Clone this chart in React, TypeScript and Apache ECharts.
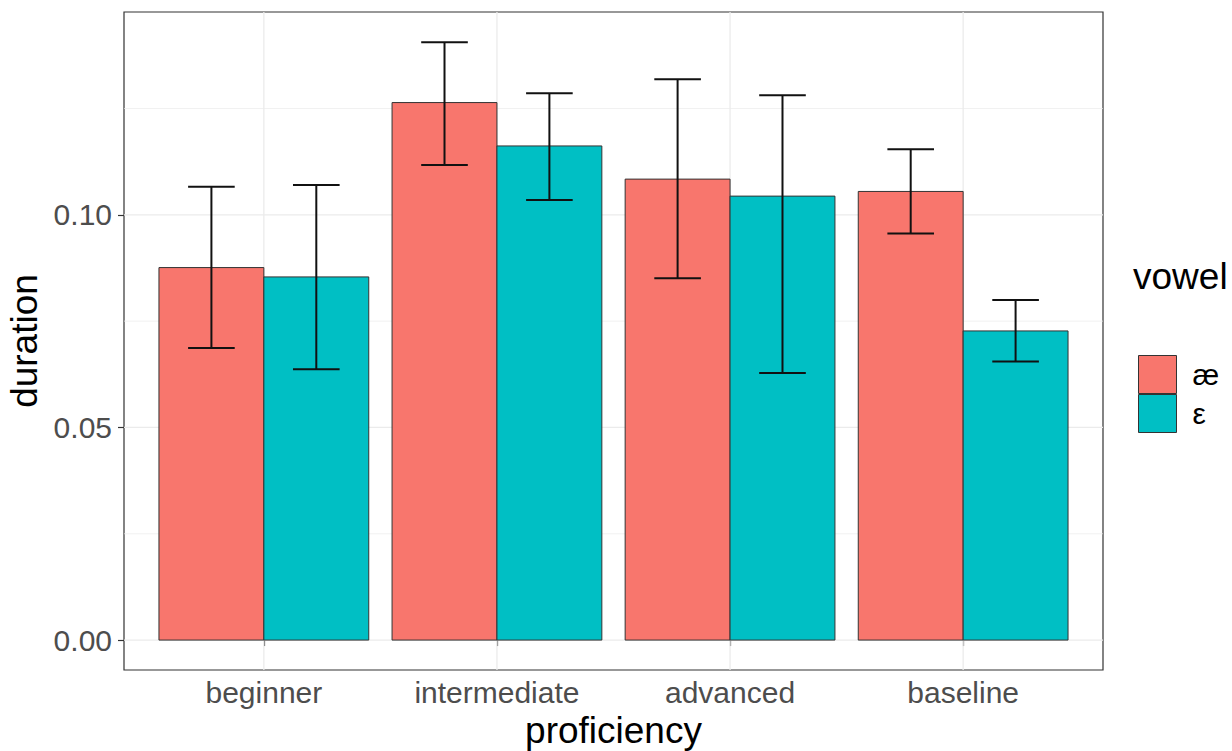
import React, { useEffect, useRef } from "react";
import * as echarts from "echarts";

const categories = ["beginner", "intermediate", "advanced", "baseline"];
const vowels = ["æ", "ε"];
const vowelColors = ["#F8766D", "#00BFC4"];
const aeMean = [0.0876, 0.1264, 0.1084, 0.1055];
const aeLow = [0.0687, 0.1117, 0.0851, 0.0956];
const aeHigh = [0.1066, 0.1406, 0.1319, 0.1154];
const epsMean = [0.0854, 0.1162, 0.1044, 0.0727];
const epsLow = [0.0637, 0.1035, 0.0628, 0.0655];
const epsHigh = [0.107, 0.1286, 0.1281, 0.08];
const yTicks = [0, 0.05, 0.1];
const yMinorTicks = [0.025, 0.075, 0.125];

const FONT = "'Liberation Sans', Arial, Helvetica, sans-serif";

export default function App() {
  const ref = useRef<HTMLDivElement>(null);
  useEffect(() => {
    if (!ref.current) return;
    const chart = echarts.init(ref.current, null, { renderer: "svg" });
    const xs = categories.map((_, i) => i + 1);
    const xMin = 0.4;
    const xMax = categories.length + 0.6;
    const yMin = -0.00704;
    const yMax = 0.1477;
    const barW = 0.45;
    const whisker = 0.1;

    const barSeries = (idx: number, means: number[]) => ({
      type: "custom",
      name: vowels[idx],
      z: 3,
      itemStyle: { color: vowelColors[idx] },
      data: xs.map((x, i) => [x, means[i]]),
      encode: { x: 0, y: 1 },
      renderItem: (params: any, api: any) => {
        const x = api.value(0);
        const y = api.value(1);
        const left = idx === 0 ? x - barW : x;
        const p0 = api.coord([left, 0]);
        const p1 = api.coord([left + barW, y]);
        return {
          type: "rect",
          shape: { x: p0[0], y: p1[1], width: p1[0] - p0[0], height: p0[1] - p1[1] },
          style: { fill: vowelColors[idx], stroke: "#333333", lineWidth: 1 },
        };
      },
    });

    const errSeries = (idx: number, lows: number[], highs: number[]) => ({
      type: "custom",
      name: vowels[idx] + " se",
      z: 4,
      silent: true,
      data: xs.map((x, i) => [x, lows[i], highs[i]]),
      encode: { x: 0, y: [1, 2] },
      renderItem: (params: any, api: any) => {
        const cx = api.value(0) + (idx === 0 ? -barW / 2 : barW / 2);
        const lo = api.value(1);
        const hi = api.value(2);
        const a = api.coord([cx, lo]);
        const b = api.coord([cx, hi]);
        const l = api.coord([cx - whisker, lo]);
        const r = api.coord([cx + whisker, lo]);
        const lt = api.coord([cx - whisker, hi]);
        const rt = api.coord([cx + whisker, hi]);
        const st = { stroke: "#111111", lineWidth: 2 };
        return {
          type: "group",
          children: [
            { type: "line", shape: { x1: a[0], y1: a[1], x2: b[0], y2: b[1] }, style: st },
            { type: "line", shape: { x1: l[0], y1: l[1], x2: r[0], y2: r[1] }, style: st },
            { type: "line", shape: { x1: lt[0], y1: lt[1], x2: rt[0], y2: rt[1] }, style: st },
          ],
        };
      },
    });

    const hGrid = {
      type: "custom",
      name: "hgrid",
      z: 1,
      silent: true,
      data: [...yTicks.map((v) => [v, 1.3]), ...yMinorTicks.map((v) => [v, 0.7])],
      encode: { y: 0 },
      renderItem: (params: any, api: any) => {
        const y = api.value(0);
        const w = api.value(1);
        const a = api.coord([xMin, y]);
        const b = api.coord([xMax, y]);
        return {
          type: "line",
          shape: { x1: a[0], y1: a[1], x2: b[0], y2: b[1] },
          style: { stroke: "#EBEBEB", lineWidth: w },
        };
      },
    };

    const vGrid = {
      type: "custom",
      name: "vgrid",
      z: 1,
      silent: true,
      data: xs.map((x) => [x]),
      encode: { x: 0 },
      renderItem: (params: any, api: any) => {
        const x = api.value(0);
        const a = api.coord([x, yMin]);
        const b = api.coord([x, yMax]);
        return {
          type: "line",
          shape: { x1: a[0], y1: a[1], x2: b[0], y2: b[1] },
          style: { stroke: "#EBEBEB", lineWidth: 1.3 },
        };
      },
    };

    chart.setOption({
      animation: false,
      backgroundColor: "#ffffff",
      textStyle: { fontFamily: FONT },
      grid: {
        left: 124,
        right: 129,
        top: 12,
        bottom: 81,
        outerBoundsMode: "none",
        containLabel: false,
        show: true,
        borderColor: "#333333",
        borderWidth: 1.2,
        backgroundColor: "#ffffff",
        z: 0,
      },
      xAxis: {
        type: "value",
        min: xMin,
        max: xMax,
        name: "proficiency",
        nameLocation: "middle",
        nameGap: 42,
        nameTextStyle: { fontSize: 37, color: "#000000", fontFamily: FONT },
        axisLine: { show: false },
        splitLine: { show: false },
        axisTick: {
          show: true,
          length: 6,
          customValues: xs,
          lineStyle: { color: "#333333", width: 1.2 },
        },
        axisLabel: {
          show: true,
          customValues: xs,
          margin: 7,
          fontSize: 30,
          color: "#4D4D4D",
          fontFamily: FONT,
          formatter: (v: number) => categories[Math.round(v) - 1] ?? "",
        },
      },
      yAxis: {
        type: "value",
        min: yMin,
        max: yMax,
        name: "duration",
        nameLocation: "middle",
        nameRotate: 90,
        nameGap: 74,
        nameTextStyle: { fontSize: 37, color: "#000000", fontFamily: FONT },
        axisLine: { show: false },
        splitLine: { show: false },
        axisTick: {
          show: true,
          length: 6,
          customValues: yTicks,
          lineStyle: { color: "#333333", width: 1.2 },
        },
        axisLabel: {
          show: true,
          customValues: yTicks,
          margin: 12,
          fontSize: 30,
          color: "#4D4D4D",
          fontFamily: FONT,
          formatter: (v: number) => v.toFixed(2),
        },
      },
      legend: {
        data: vowels.map((v) => ({ name: v, icon: "rect" })),
        orient: "vertical",
        left: 1133,
        top: 350,
        itemWidth: 38,
        itemHeight: 38,
        itemGap: 0,
        selectedMode: false,
        itemStyle: { borderColor: "#333333", borderWidth: 1 },
        textStyle: { fontSize: 30, color: "#000000", fontFamily: FONT, padding: [6, 0, 0, 11] },
      },
      graphic: [
        {
          type: "text",
          left: 1133,
          top: 258,
          style: { text: "vowel", fontSize: 37, fill: "#000000", fontFamily: FONT },
        },
      ],
      series: [
        hGrid,
        vGrid,
        barSeries(0, aeMean),
        barSeries(1, epsMean),
        errSeries(0, aeLow, aeHigh),
        errSeries(1, epsLow, epsHigh),
      ],
    } as any);
    return () => chart.dispose();
  }, []);
  return (
    <div
      ref={ref}
      style={{ position: "fixed", left: 0, top: 0, width: 1232, height: 751 }}
    />
  );
}
